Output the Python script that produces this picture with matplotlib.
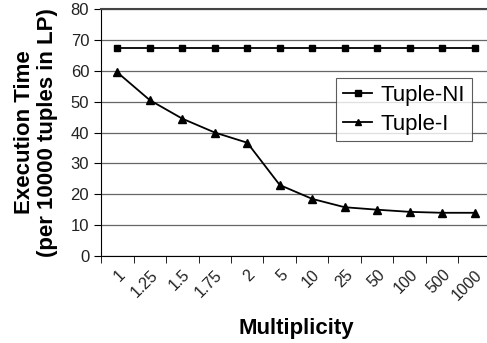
import numpy as np
import matplotlib.pyplot as plt
from matplotlib.ticker import FixedLocator

plt.rcParams['font.family'] = ['Liberation Sans', 'DejaVu Sans']

labels = ["1", "1.25", "1.5", "1.75", "2", "5", "10", "25", "50", "100", "500", "1000"]
tuple_ni = [67.3, 67.3, 67.3, 67.3, 67.3, 67.3, 67.3, 67.3, 67.3, 67.3, 67.3, 67.3]
tuple_i = [59.5, 50.5, 44.5, 40.0, 36.7, 23.0, 18.5, 15.8, 15.0, 14.3, 14.0, 14.0]

fig = plt.figure(figsize=(4.87, 3.43), dpi=100)
ax = fig.add_axes([0.2074, 0.2536, 0.8008, 0.7201])
x = np.arange(len(labels))

ax.plot(x, tuple_ni, color="black", lw=1.3, marker="s", ms=5, label="Tuple-NI")
ax.plot(x, tuple_i, color="black", lw=1.3, marker="^", ms=6, label="Tuple-I")

ax.set_xlim(-0.5, len(labels) - 0.5)
ax.set_ylim(0, 80)
ax.set_yticks(np.arange(0, 81, 10))
ax.yaxis.grid(True, color="#666666", lw=0.9)
ax.set_axisbelow(True)

ax.set_xticks(x)
ax.set_xticklabels(labels, rotation=45, ha="right", rotation_mode="anchor", fontsize=11.5, color="#222222")
ax.tick_params(axis="x", which="major", length=0, pad=8)
ax.xaxis.set_minor_locator(FixedLocator(np.arange(-0.5, len(labels), 1)))
ax.tick_params(axis="x", which="minor", length=5, color="black")
ax.tick_params(axis="y", length=5, labelsize=12, labelcolor="#222222")

ax.spines["right"].set_visible(False)
ax.spines["top"].set_color("#444444")
ax.spines["top"].set_linewidth(1.5)

ax.set_ylabel("Execution Time\n(per 10000 tuples in LP)", fontsize=16, fontweight="bold", labelpad=9, linespacing=1.1)
ax.set_xlabel("Multiplicity", fontsize=16, fontweight="bold", labelpad=11)

leg = ax.legend(loc="upper right", bbox_to_anchor=(0.98, 0.765), fontsize=16, frameon=True, fancybox=False,
                edgecolor="#333333", handlelength=1.3, handletextpad=0.4, borderpad=0.3, labelspacing=0.35,
                markerscale=0.8)
leg.get_frame().set_linewidth(0.8)

fig.savefig("out.png", dpi=100)
